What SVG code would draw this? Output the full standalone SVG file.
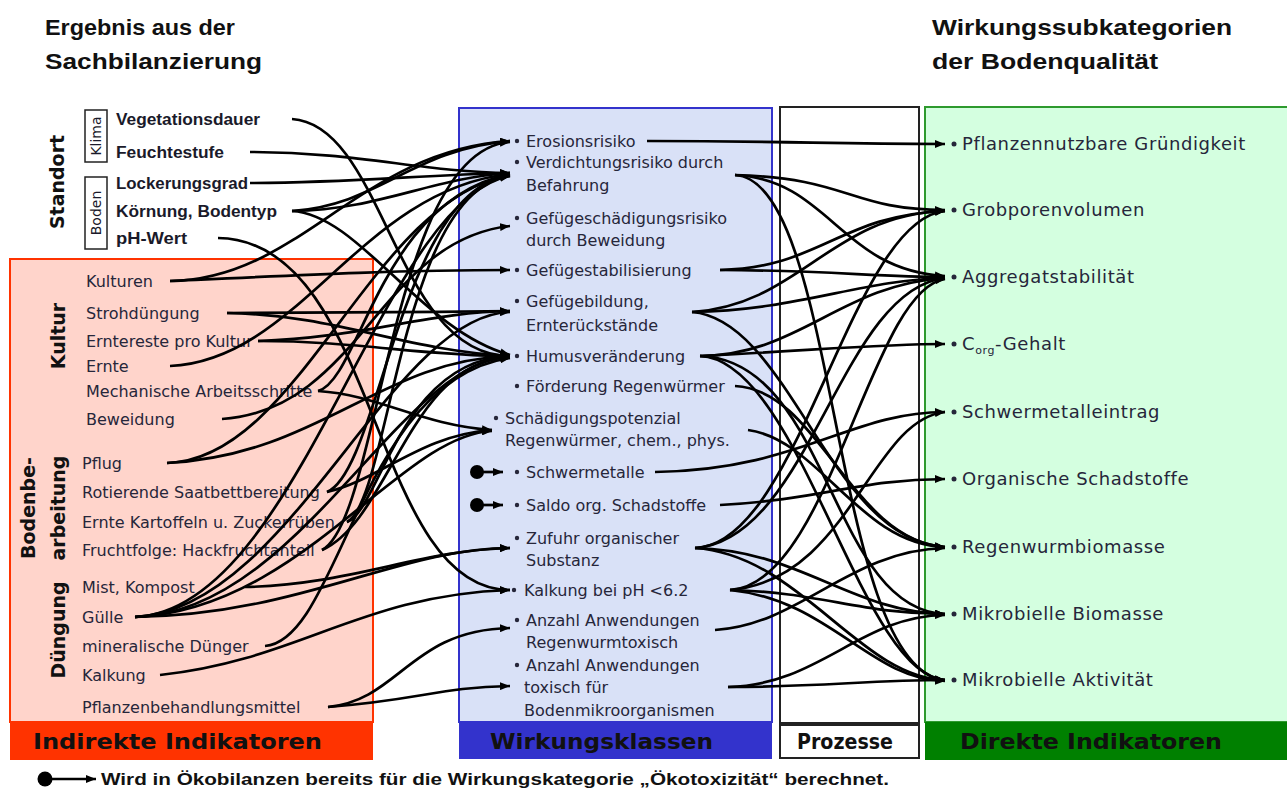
<svg xmlns="http://www.w3.org/2000/svg" width="1287" height="791" viewBox="0 0 1287 791">
  <style>
    .title { font-family: "Liberation Sans", Arial, sans-serif; font-weight: bold; font-size: 22px; fill: #111; }
    .site { font-family: "Liberation Sans", Arial, sans-serif; font-weight: bold; font-size: 16px; fill: #1a1a2a; }
    .vert { font-family: "DejaVu Sans", Verdana, sans-serif; font-weight: bold; font-size: 19px; fill: #111; }
    .small { font-family: "DejaVu Sans", Verdana, sans-serif; font-size: 14px; fill: #1a1a2a; }
    .lbl { font-family: "DejaVu Sans", Verdana, sans-serif; font-size: 16px; fill: #26263a; }
    .rlbl { font-family: "DejaVu Sans", Verdana, sans-serif; font-size: 18px; letter-spacing: 0.6px; fill: #26263a; }
    .foot { font-family: "DejaVu Sans", Verdana, sans-serif; font-weight: bold; font-size: 21px; fill: #111; }
    .legend { font-family: "Liberation Sans", Arial, sans-serif; font-weight: bold; font-size: 16px; fill: #111; }
    .bul { fill: #26263a; }
    .conn path { fill: none; stroke: #000; stroke-width: 2.7; marker-end: url(#arr); }
  </style>
  <defs>
    <marker id="arr" markerUnits="userSpaceOnUse" markerWidth="10" markerHeight="8" refX="10" refY="4" orient="auto">
      <path d="M0,0 L10,4 L0,8 z" fill="#000"/>
    </marker>
  </defs>

  <rect x="0" y="0" width="1287" height="791" fill="#fff"/>

  <!-- headings -->
  <g id="heading-left">
    <text class="title" x="45" y="35" textLength="190" lengthAdjust="spacingAndGlyphs">Ergebnis aus der</text>
    <text class="title" x="45" y="69" textLength="217" lengthAdjust="spacingAndGlyphs">Sachbilanzierung</text>
  </g>
  <g id="heading-right">
    <text class="title" x="932" y="35" textLength="300" lengthAdjust="spacingAndGlyphs">Wirkungssubkategorien</text>
    <text class="title" x="932" y="69" textLength="226" lengthAdjust="spacingAndGlyphs">der Bodenqualität</text>
  </g>

  <!-- column panels -->
  <g id="panel-indirekt">
    <rect x="10" y="259" width="363" height="463" fill="#FFD4CB" stroke="#FF3300" stroke-width="2"/>
    <rect x="10" y="722" width="363" height="38" fill="#FF3300"/>
    <text class="foot" x="33" y="749" textLength="289" lengthAdjust="spacingAndGlyphs">Indirekte Indikatoren</text>
  </g>
  <g id="panel-wirkungsklassen">
    <rect x="459" y="108" width="313" height="614" fill="#D9E1F7" stroke="#3333CC" stroke-width="2"/>
    <rect x="459" y="722" width="313" height="37" fill="#3333CC"/>
    <text class="foot" x="490" y="749" textLength="223" lengthAdjust="spacingAndGlyphs">Wirkungsklassen</text>
  </g>
  <g id="panel-prozesse">
    <rect x="780" y="107" width="139" height="616" fill="#fff" stroke="#222" stroke-width="2"/>
    <rect x="780" y="725" width="139" height="33" fill="#fff" stroke="#222" stroke-width="2"/>
    <text class="foot" x="797" y="749" font-size="16" textLength="96" lengthAdjust="spacingAndGlyphs">Prozesse</text>
  </g>
  <g id="panel-direkt">
    <rect x="925" y="107" width="370" height="615" fill="#D4FFE0" stroke="#2E9A2E" stroke-width="2"/>
    <rect x="925" y="722" width="370" height="38" fill="#008000"/>
    <text class="foot" x="960" y="749" textLength="262" lengthAdjust="spacingAndGlyphs">Direkte Indikatoren</text>
  </g>

  <!-- group captions -->
  <g id="group-standort">
    <text class="vert" transform="translate(64,182) rotate(-90)" text-anchor="middle">Standort</text>
    <rect x="85" y="110" width="22" height="52" fill="none" stroke="#222" stroke-width="1.5"/>
    <text class="small" transform="translate(101,136) rotate(-90)" text-anchor="middle">Klima</text>
    <rect x="85" y="177" width="22" height="72" fill="none" stroke="#222" stroke-width="1.5"/>
    <text class="small" transform="translate(101,213) rotate(-90)" text-anchor="middle">Boden</text>
  </g>
  <g id="group-kultur">
    <text class="vert" transform="translate(65,336) rotate(-90)" text-anchor="middle">Kultur</text>
  </g>
  <g id="group-bodenbearbeitung">
    <text class="vert" transform="translate(35,508) rotate(-90)" text-anchor="middle">Bodenbe-</text>
    <text class="vert" transform="translate(65,508) rotate(-90)" text-anchor="middle">arbeitung</text>
  </g>
  <g id="group-duengung">
    <text class="vert" transform="translate(65,630) rotate(-90)" text-anchor="middle">Düngung</text>
  </g>

  <!-- inventory items -->
  <g id="n-vegetationsdauer"><text class="site" x="116" y="125" textLength="144" lengthAdjust="spacingAndGlyphs">Vegetationsdauer</text></g>
  <g id="n-feuchtestufe"><text class="site" x="116" y="158" textLength="108" lengthAdjust="spacingAndGlyphs">Feuchtestufe</text></g>
  <g id="n-lockerungsgrad"><text class="site" x="116" y="189" textLength="132" lengthAdjust="spacingAndGlyphs">Lockerungsgrad</text></g>
  <g id="n-koernung"><text class="site" x="116" y="217" textLength="161" lengthAdjust="spacingAndGlyphs">Körnung, Bodentyp</text></g>
  <g id="n-phwert"><text class="site" x="116" y="244" textLength="71" lengthAdjust="spacingAndGlyphs">pH-Wert</text></g>

  <g id="n-kulturen"><text class="lbl" x="86" y="287">Kulturen</text></g>
  <g id="n-strohduengung"><text class="lbl" x="86" y="319">Strohdüngung</text></g>
  <g id="n-ernterreste"><text class="lbl" x="86" y="347">Erntereste pro Kultur</text></g>
  <g id="n-ernte"><text class="lbl" x="86" y="372">Ernte</text></g>
  <g id="n-mechanisch"><text class="lbl" x="86" y="397">Mechanische Arbeitsschritte</text></g>
  <g id="n-beweidung"><text class="lbl" x="86" y="425">Beweidung</text></g>
  <g id="n-pflug"><text class="lbl" x="82" y="469">Pflug</text></g>
  <g id="n-saatbett"><text class="lbl" x="82" y="498">Rotierende Saatbettbereitung</text></g>
  <g id="n-kartoffeln"><text class="lbl" x="82" y="528">Ernte Kartoffeln u. Zuckerrüben</text></g>
  <g id="n-fruchtfolge"><text class="lbl" x="82" y="556">Fruchtfolge: Hackfruchtanteil</text></g>
  <g id="n-mist"><text class="lbl" x="82" y="593">Mist, Kompost</text></g>
  <g id="n-guelle"><text class="lbl" x="82" y="623">Gülle</text></g>
  <g id="n-mineral"><text class="lbl" x="82" y="652">mineralische Dünger</text></g>
  <g id="n-kalkung"><text class="lbl" x="82" y="681">Kalkung</text></g>
  <g id="n-psm"><text class="lbl" x="82" y="713">Pflanzenbehandlungsmittel</text></g>

  <!-- impact classes -->
  <g id="w-erosion"><circle class="bul" cx="517" cy="141" r="2.2"/><text class="lbl" x="526" y="147">Erosionsrisiko</text></g>
  <g id="w-verdichtung"><circle class="bul" cx="517" cy="162" r="2.2"/><text class="lbl" x="526" y="168">Verdichtungsrisiko durch</text><text class="lbl" x="526" y="191">Befahrung</text></g>
  <g id="w-gefuegeschaedigung"><circle class="bul" cx="517" cy="218" r="2.2"/><text class="lbl" x="526" y="224">Gefügeschädigungsrisiko</text><text class="lbl" x="526" y="246">durch Beweidung</text></g>
  <g id="w-gefuegestabil"><circle class="bul" cx="517" cy="270" r="2.2"/><text class="lbl" x="526" y="276">Gefügestabilisierung</text></g>
  <g id="w-gefuegebildung"><circle class="bul" cx="517" cy="301" r="2.2"/><text class="lbl" x="526" y="307">Gefügebildung,</text><text class="lbl" x="526" y="331">Ernterückstände</text></g>
  <g id="w-humus"><circle class="bul" cx="517" cy="356" r="2.2"/><text class="lbl" x="526" y="362">Humusveränderung</text></g>
  <g id="w-regenwuermer"><circle class="bul" cx="517" cy="386" r="2.2"/><text class="lbl" x="526" y="392">Förderung Regenwürmer</text></g>
  <g id="w-schaedigung"><circle class="bul" cx="496" cy="418" r="2.2"/><text class="lbl" x="505" y="424">Schädigungspotenzial</text><text class="lbl" x="505" y="446">Regenwürmer, chem., phys.</text></g>
  <g id="w-schwermetalle"><circle class="bul" cx="517" cy="472" r="2.2"/><text class="lbl" x="526" y="478">Schwermetalle</text></g>
  <g id="w-schadstoffe"><circle class="bul" cx="517" cy="505" r="2.2"/><text class="lbl" x="526" y="511">Saldo org. Schadstoffe</text></g>
  <g id="w-zufuhr"><circle class="bul" cx="517" cy="538" r="2.2"/><text class="lbl" x="526" y="544">Zufuhr organischer</text><text class="lbl" x="526" y="566">Substanz</text></g>
  <g id="w-kalkung"><circle class="bul" cx="514" cy="590" r="2.2"/><text class="lbl" x="524" y="596">Kalkung bei pH &lt;6.2</text></g>
  <g id="w-anzahl-rw"><circle class="bul" cx="517" cy="620" r="2.2"/><text class="lbl" x="526" y="626">Anzahl Anwendungen</text><text class="lbl" x="526" y="648">Regenwurmtoxisch</text></g>
  <g id="w-anzahl-mo"><circle class="bul" cx="517" cy="665" r="2.2"/><text class="lbl" x="526" y="671">Anzahl Anwendungen</text><text class="lbl" x="524" y="693">toxisch für</text><text class="lbl" x="524" y="716">Bodenmikroorganismen</text></g>

  <!-- soil quality sub-categories -->
  <g id="d-gruendigkeit"><circle class="bul" cx="954" cy="144" r="2.5"/><text class="rlbl" x="962" y="150">Pflanzennutzbare Gründigkeit</text></g>
  <g id="d-grobporen"><circle class="bul" cx="954" cy="210" r="2.5"/><text class="rlbl" x="962" y="216">Grobporenvolumen</text></g>
  <g id="d-aggregat"><circle class="bul" cx="954" cy="277" r="2.5"/><text class="rlbl" x="962" y="283">Aggregatstabilität</text></g>
  <g id="d-corg"><circle class="bul" cx="954" cy="344" r="2.5"/><text class="rlbl" x="962" y="350">C<tspan font-size="11" dy="4">org</tspan><tspan dy="-4">-Gehalt</tspan></text></g>
  <g id="d-schwermetall"><circle class="bul" cx="954" cy="412" r="2.5"/><text class="rlbl" x="962" y="418">Schwermetalleintrag</text></g>
  <g id="d-orgschad"><circle class="bul" cx="954" cy="479" r="2.5"/><text class="rlbl" x="962" y="485">Organische Schadstoffe</text></g>
  <g id="d-regenwurm"><circle class="bul" cx="954" cy="547" r="2.5"/><text class="rlbl" x="962" y="553">Regenwurmbiomasse</text></g>
  <g id="d-mikrobiomasse"><circle class="bul" cx="954" cy="614" r="2.5"/><text class="rlbl" x="962" y="620">Mikrobielle Biomasse</text></g>
  <g id="d-mikroaktiv"><circle class="bul" cx="954" cy="680" r="2.5"/><text class="rlbl" x="962" y="686">Mikrobielle Aktivität</text></g>

  <!-- connectors -->
  <g id="connectors" class="conn">
    <!-- inventory -> impact classes -->
    <path d="M292,119 C385,125 395,356 510,356"/>
    <path d="M250,152 C360,152 420,172 510,173"/>
    <path d="M250,183 C350,183 420,175 510,173"/>
    <path d="M292,211 C380,205 410,150 510,141"/>
    <path d="M292,211 C380,210 430,178 510,173"/>
    <path d="M292,211 C360,215 420,330 510,355"/>
    <path d="M218,238 C380,240 370,590 510,590"/>
    <path d="M170,281 C300,275 400,270 510,270"/>
    <path d="M170,281 C300,280 360,150 510,141"/>
    <path d="M227,313 C350,313 420,312 510,311"/>
    <path d="M227,313 C340,315 400,350 510,356"/>
    <path d="M258,341 C360,341 420,356 510,356"/>
    <path d="M258,341 C360,338 430,312 510,311"/>
    <path d="M170,366 C300,360 360,190 510,174"/>
    <path d="M318,391 C360,380 380,200 510,174"/>
    <path d="M318,391 C380,395 420,425 492,430"/>
    <path d="M222,419 C360,410 380,240 510,226"/>
    <path d="M167,463 C300,460 370,200 510,175"/>
    <path d="M167,463 C320,455 380,360 510,356"/>
    <path d="M327,492 C380,480 420,435 492,430"/>
    <path d="M327,492 C380,470 400,190 510,175"/>
    <path d="M347,522 C380,510 400,360 510,356"/>
    <path d="M347,522 C390,500 400,190 510,176"/>
    <path d="M322,550 C380,520 390,150 510,142"/>
    <path d="M322,550 C390,520 410,360 510,357"/>
    <path d="M245,587 C350,585 420,550 510,548"/>
    <path d="M135,617 C300,610 380,200 510,176"/>
    <path d="M135,617 C300,612 400,360 510,357"/>
    <path d="M135,617 C300,610 400,435 492,431"/>
    <path d="M135,617 C300,615 400,548 510,548"/>
    <path d="M135,617 C290,610 390,315 510,312"/>
    <path d="M265,646 C340,640 360,380 510,358"/>
    <path d="M160,675 C300,660 360,595 510,590"/>
    <path d="M328,707 C400,700 410,630 510,628"/>
    <path d="M328,707 C420,700 440,687 510,686"/>

    <!-- impact classes -> soil quality -->
    <path d="M647,141 C800,141 820,144 945,144"/>
    <path d="M735,175 C850,178 850,210 945,210"/>
    <path d="M735,175 C830,180 840,270 945,276"/>
    <path d="M735,175 C840,180 830,670 945,680"/>
    <path d="M720,270 C820,270 880,277 945,277"/>
    <path d="M720,270 C820,268 840,215 945,211"/>
    <path d="M692,312 C800,305 830,215 945,211"/>
    <path d="M692,312 C800,310 860,280 945,278"/>
    <path d="M692,312 C790,320 830,540 945,547"/>
    <path d="M700,356 C820,350 880,344 945,344"/>
    <path d="M700,356 C800,355 840,285 945,278"/>
    <path d="M700,356 C830,360 830,610 945,614"/>
    <path d="M700,356 C800,360 860,675 945,680"/>
    <path d="M735,386 C820,390 850,540 945,547"/>
    <path d="M748,430 C820,440 860,545 945,547"/>
    <path d="M655,472 C800,470 850,412 945,412"/>
    <path d="M720,505 C820,500 860,479 945,479"/>
    <path d="M695,548 C800,545 850,220 945,211"/>
    <path d="M695,548 C810,540 840,290 945,278"/>
    <path d="M695,548 C800,550 850,612 945,614"/>
    <path d="M695,548 C800,555 860,678 945,680"/>
    <path d="M730,590 C830,585 870,290 945,279"/>
    <path d="M730,590 C820,592 860,614 945,614"/>
    <path d="M730,590 C830,600 870,680 945,681"/>
    <path d="M730,590 C850,580 870,420 945,412"/>
    <path d="M715,630 C800,625 850,550 945,548"/>
    <path d="M728,687 C820,687 870,680 945,680"/>
    <path d="M728,687 C820,685 860,616 945,615"/>

    <!-- eco-toxicity markers -->
    <path d="M477,472 L503,472"/>
    <path d="M477,505 L503,505"/>
  </g>
  <g id="eco-dots">
    <circle cx="477" cy="472" r="7" fill="#000"/>
    <circle cx="477" cy="505" r="7" fill="#000"/>
  </g>

  <!-- legend -->
  <g id="legend">
    <circle cx="45" cy="779" r="7.5" fill="#000"/>
    <path d="M45,779 L96,779" fill="none" stroke="#000" stroke-width="2.7" marker-end="url(#arr)"/>
    <text class="legend" x="101" y="785" textLength="788" lengthAdjust="spacingAndGlyphs">Wird in Ökobilanzen bereits für die Wirkungskategorie „Ökotoxizität“ berechnet.</text>
  </g>
</svg>
